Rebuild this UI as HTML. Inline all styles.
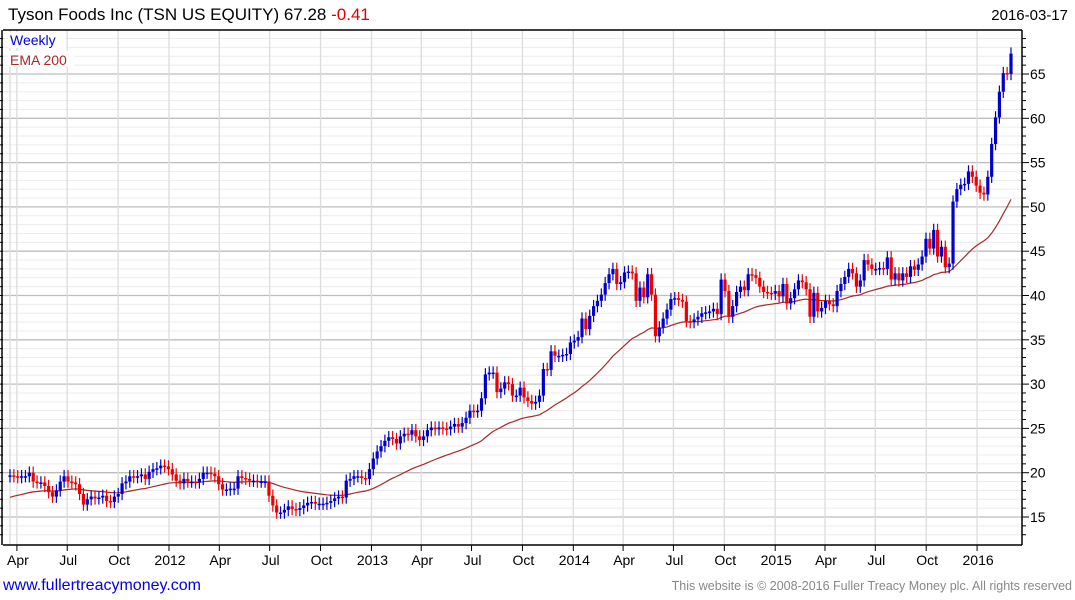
<!DOCTYPE html>
<html><head><meta charset="utf-8">
<style>
html,body{margin:0;padding:0;background:#fff;width:1075px;height:600px;overflow:hidden;font-family:"Liberation Sans",sans-serif}
svg{position:absolute;left:0;top:0}
</style></head>
<body>
<svg id="chart" width="1075" height="600" xmlns="http://www.w3.org/2000/svg">
<text x="8" y="20" font-size="17" fill="#000">Tyson Foods Inc (TSN US EQUITY) 67.28 <tspan fill="#e00000">-0.41</tspan></text>
<text x="1068" y="20" font-size="15" fill="#000" text-anchor="end">2016-03-17</text>
<g id="grid"></g>
<g id="ema"></g>
<g id="candles"></g>
<g id="axes"></g>
<rect x="8" y="32" width="58" height="16" fill="#fff"/>
<text x="10" y="45" font-size="14" fill="#0000dd">Weekly</text>
<rect x="8" y="51" width="66" height="16" fill="#fff"/>
<text x="10" y="65" font-size="14" fill="#a52a2a">EMA 200</text>
<text x="3" y="590" font-size="16" fill="#0000ee">www.fullertreacymoney.com</text>
<text x="1072" y="590" font-size="12.5" fill="#888" text-anchor="end">This website is © 2008-2016 Fuller Treacy Money plc. All rights reserved</text>
</svg>
<script>
const closes = [
19.7,19.6,19.5,19.6,19.6,20.0,19.0,18.9,18.9,18.5,
17.8,17.3,18.0,19.0,19.6,19.0,18.9,18.7,17.6,16.4,
17.0,17.3,17.1,17.2,17.4,16.8,16.7,17.3,17.6,18.8,
19.0,19.6,19.5,19.6,19.8,19.3,20.1,20.4,20.5,20.8,
20.7,20.4,19.8,19.1,18.8,19.3,19.0,19.0,18.9,19.3,
20.0,20.0,19.9,19.6,18.7,18.1,18.1,18.2,18.2,19.6,
19.4,19.3,19.1,19.1,19.0,19.0,19.0,17.4,16.3,15.5,
15.5,15.8,16.2,15.9,15.8,16.0,16.3,16.6,16.7,16.5,
16.5,16.5,16.6,16.8,17.1,17.3,17.2,19.1,19.3,19.6,
19.6,19.4,19.3,20.4,21.6,22.4,23.0,23.6,
24.0,23.8,23.3,24.1,24.4,24.3,24.8,24.1,23.7,24.1,
24.8,25.1,24.9,25.1,25.0,24.9,25.2,25.5,25.2,25.6,
26.2,27.0,26.9,27.0,28.4,31.1,31.3,31.3,29.1,29.5,
30.2,30.0,28.7,28.7,29.6,28.5,28.1,27.8,28.0,28.7,
31.7,31.6,33.7,33.2,33.2,33.3,33.4,34.7,34.9,35.3,
37.4,36.2,37.7,38.8,39.4,40.1,41.4,42.4,43.0,41.3,
41.5,42.6,42.7,42.5,39.4,40.9,39.8,42.4,40.1,35.4,
36.4,37.4,38.4,39.6,39.7,39.5,
39.3,37.1,37.0,37.3,37.6,38.0,38.1,38.2,38.5,37.9,
41.8,40.5,37.6,38.8,40.4,41.0,40.6,42.4,42.3,42.0,
41.0,40.4,40.3,40.2,40.5,39.9,41.3,39.1,39.7,40.7,
41.7,41.5,40.7,37.6,40.3,38.2,38.6,39.4,39.0,38.8,
40.5,41.3,42.1,43.0,42.5,41.0,41.7,44.0,43.5,43.0,
43.0,43.1,43.0,44.3,41.8,42.5,41.7,42.5,42.1,43.3,
42.9,43.5,44.4,46.4,45.3,47.4,44.4,45.5,43.2,43.6,
50.6,52.0,52.5,52.6,54.0,53.4,52.4,51.6,51.4,53.4,
57.1,60.1,63.0,65.1,65.0,67.3];
const firstOpen = 19.6;
const emaSeed = 17.1;
const emaPeriod = 40;
const yTicks = [15,20,25,30,35,40,45,50,55,60,65];
const xLabels = ["Apr","Jul","Oct","2012","Apr","Jul","Oct","2013","Apr","Jul","Oct","2014","Apr","Jul","Oct","2015","Apr","Jul","Oct","2016"];
const xDates = ["2011-04-01","2011-07-01","2011-10-01","2012-01-01","2012-04-01","2012-07-01","2012-10-01","2013-01-01","2013-04-01","2013-07-01","2013-10-01","2014-01-01","2014-04-01","2014-07-01","2014-10-01","2015-01-01","2015-04-01","2015-07-01","2015-10-01","2016-01-01"];

const NS="http://www.w3.org/2000/svg";
const L=3,R=1022,T=30,B=545;
const yScale=p=>517-(p-15)*8.86;
const xIdx=i=>10+i*(1001/(closes.length-1));
const xDate=d=>169+(Date.parse(d)-Date.parse("2012-01-01"))/86400000*0.5531;
function mk(tag,attrs,parent){const e=document.createElementNS(NS,tag);for(const k in attrs)e.setAttribute(k,attrs[k]);parent.appendChild(e);return e;}
const grid=document.getElementById('grid'),axes=document.getElementById('axes'),cg=document.getElementById('candles'),eg=document.getElementById('ema');
for(let p=13;p<=70;p++){const y=yScale(p);if(y<T||y>B)continue;
 const major=p%5===0;
 const ln=mk('line',{x1:L,x2:R,y1:y,y2:y,stroke:major?'#bdbdbd':'#ececec','stroke-width':major?1.3:1},grid);
 
 
 const t=mk('line',{x1:R,x2:R+(major?7:4),y1:y,y2:y,stroke:'#000'},axes);
 
 
 const t2=mk('line',{x1:0,x2:L,y1:y,y2:y,stroke:'#000'},axes);
 
 
}
yTicks.forEach(v=>{const tx=mk('text',{x:1030,y:yScale(v)+5,'font-size':14,fill:'#000'},axes);tx.textContent=v;
 
 });
xDates.forEach((d,i)=>{const x=xDate(d);
 const g=mk('line',{x1:x,x2:x,y1:T,y2:B,stroke:'#dcdcdc','stroke-width':1.3},grid);
 
 
 const t=mk('line',{x1:x,x2:x,y1:B,y2:B+6,stroke:'#000'},axes);
 
 
 const tx=mk('text',{x:x+1,y:565,'font-size':14,fill:'#000','text-anchor':'middle'},axes);tx.textContent=xLabels[i];
 
 });
const lg=mk('line',{x1:10,x2:10,y1:T,y2:B,stroke:'#dcdcdc','stroke-width':1.3},grid);


[[L,T,R,T],[R,T,R,B],[L,B,R,B],[L-1,T,L-1,B]].forEach(a=>{const f=mk('line',{x1:a[0],y1:a[1],x2:a[2],y2:a[3],stroke:'#000','stroke-width':1.5},axes);
 
 });
let e=emaSeed;const k=2/(emaPeriod+1);let pts=[];
closes.forEach((c,i)=>{e=e+k*(c-e);pts.push(xIdx(i).toFixed(1)+','+yScale(e).toFixed(1));});
const pl=mk('polyline',{points:pts.join(' '),fill:'none',stroke:'#a52a2a','stroke-width':1.2},eg);


closes.forEach((c,i)=>{const o=i===0?firstOpen:closes[i-1];const x=xIdx(i);
 const up=c>=o;const col=up?'#0000cc':'#ee0000';
 const hi=Math.max(o,c)+0.7,lo=Math.min(o,c)-0.7;
 const w=mk('line',{x1:x,x2:x,y1:yScale(hi),y2:yScale(lo),stroke:col,'stroke-width':1.2},cg);
 
 
 const y1=yScale(Math.max(o,c)),y2=yScale(Math.min(o,c));
 const b=mk('rect',{x:x-1.6,y:y1,width:3.2,height:Math.max(1.5,y2-y1),fill:col},cg);
 
 
});
</script>
</body></html>
